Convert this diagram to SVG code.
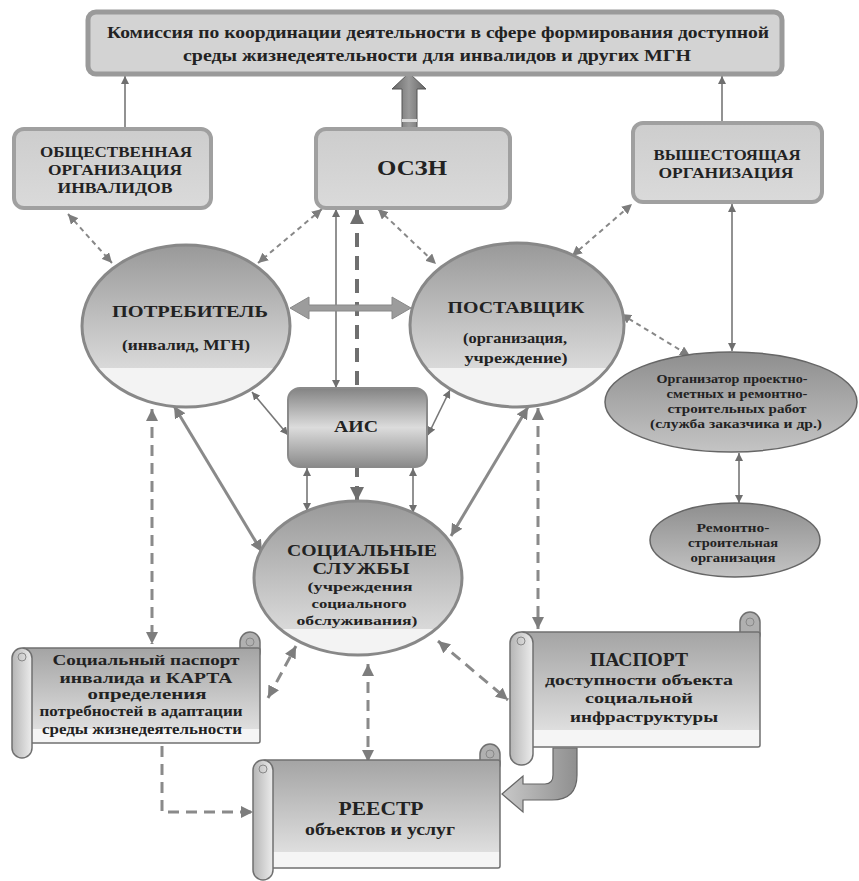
<svg xmlns="http://www.w3.org/2000/svg" width="859" height="881" viewBox="0 0 859 881">
<defs>
<linearGradient id="gBox" x1="0" y1="0" x2="0" y2="1"><stop offset="0" stop-color="#cdcdcd"/><stop offset="1" stop-color="#dadada"/></linearGradient>
<linearGradient id="gEll" x1="0" y1="0" x2="0" y2="1"><stop offset="0" stop-color="#999"/><stop offset="0.76" stop-color="#d9d9d9"/><stop offset="0.76" stop-color="#f3f3f3"/><stop offset="1" stop-color="#f3f3f3"/></linearGradient>
<linearGradient id="gEll2" x1="0" y1="0" x2="0" y2="1"><stop offset="0" stop-color="#999"/><stop offset="0.83" stop-color="#d9d9d9"/><stop offset="0.83" stop-color="#f3f3f3"/><stop offset="1" stop-color="#f3f3f3"/></linearGradient>
<linearGradient id="gOrg" x1="0" y1="0" x2="0" y2="1"><stop offset="0" stop-color="#8e8e8e"/><stop offset="1" stop-color="#c4c4c4"/></linearGradient>
<linearGradient id="gAis" x1="0" y1="0" x2="0" y2="1"><stop offset="0" stop-color="#838383"/><stop offset="0.5" stop-color="#dcdcdc"/><stop offset="1" stop-color="#8a8a8a"/></linearGradient>
<linearGradient id="gScr" x1="0" y1="0" x2="0" y2="1"><stop offset="0" stop-color="#a4a4a4"/><stop offset="0.85" stop-color="#dedede"/><stop offset="0.85" stop-color="#f5f5f5"/><stop offset="1" stop-color="#f5f5f5"/></linearGradient>
<linearGradient id="gRoll" x1="0" y1="0" x2="1" y2="0"><stop offset="0" stop-color="#b5b5b5"/><stop offset="1" stop-color="#ececec"/></linearGradient>
<linearGradient id="gArr" x1="0" y1="0" x2="1" y2="0"><stop offset="0" stop-color="#666"/><stop offset="0.5" stop-color="#9a9a9a"/><stop offset="1" stop-color="#666"/></linearGradient>
<linearGradient id="gU" x1="0" y1="0" x2="1" y2="0"><stop offset="0" stop-color="#c8c8c8"/><stop offset="1" stop-color="#8f8f8f"/></linearGradient>
<marker id="mt" viewBox="0 0 10 10" refX="10" refY="5" markerWidth="8" markerHeight="8" markerUnits="userSpaceOnUse" orient="auto-start-reverse"><path d="M0,0L10,5L0,10z" fill="#6f6f6f"/></marker>
<marker id="md" viewBox="0 0 10 10" refX="10" refY="5" markerWidth="10" markerHeight="10" markerUnits="userSpaceOnUse" orient="auto-start-reverse"><path d="M0,0L10,5L0,10z" fill="#7d7d7d"/></marker>
<marker id="mm" viewBox="0 0 10 10" refX="10" refY="5" markerWidth="12" markerHeight="12" markerUnits="userSpaceOnUse" orient="auto-start-reverse"><path d="M0,0L10,5L0,10z" fill="#7d7d7d"/></marker>
<marker id="mb" viewBox="0 0 10 10" refX="10" refY="5" markerWidth="14" markerHeight="14" markerUnits="userSpaceOnUse" orient="auto-start-reverse"><path d="M0,0L10,5L0,10z" fill="#6f6f6f"/></marker>
</defs>
<style>
.box{fill:url(#gBox);stroke:#a0a0a0;stroke-width:4}
.t{font-family:'Liberation Serif','Times New Roman','DejaVu Serif',serif;font-weight:bold;fill:#222;text-anchor:middle}
.sl{fill:none;stroke:#777;stroke-width:1.6}
.dl{fill:none;stroke:#888;stroke-width:2;stroke-dasharray:5 4}
.dl2{fill:none;stroke:#8a8a8a;stroke-width:3;stroke-dasharray:11 7}
.dl3{fill:none;stroke:#6f6f6f;stroke-width:4;stroke-dasharray:14 9}
.ml{fill:none;stroke:#8a8a8a;stroke-width:3}
.ell{stroke:#888;stroke-width:3}
.scr{fill:url(#gScr);stroke:#707070;stroke-width:1.5}
.roll{fill:url(#gRoll);stroke:#707070;stroke-width:1.5}
.curl{fill:#b0b0b0;stroke:#707070;stroke-width:1.5}
</style>
<rect width="859" height="881" fill="#fff"/>

<g id="connectors">
  <path class="sl" d="M125,128V76" marker-end="url(#mt)"/>
  <path class="sl" d="M722,123V76" marker-end="url(#mt)"/>
  <path class="sl" d="M732,204V351" marker-start="url(#mt)" marker-end="url(#mt)"/>
  <path class="sl" d="M739,453V503" marker-start="url(#mt)" marker-end="url(#mt)"/>
  <path class="dl" d="M621,314L690,356" marker-start="url(#md)" marker-end="url(#md)"/>
  <path class="dl" d="M572,256L632,204" marker-start="url(#md)" marker-end="url(#md)"/>
  <path class="dl" d="M322,209L258,263" marker-start="url(#md)" marker-end="url(#md)"/>
  <path class="dl" d="M378,209L436,264" marker-start="url(#md)" marker-end="url(#md)"/>
  <path class="dl" d="M68,214L112,263" marker-start="url(#md)" marker-end="url(#md)"/>
  <path class="sl" d="M336,209V388" marker-start="url(#mt)" marker-end="url(#mt)"/>
  <path class="dl3" d="M357,210V501" marker-start="url(#mb)" marker-end="url(#mb)"/>
  <path class="sl" d="M252,392L288,435" marker-start="url(#mt)" marker-end="url(#mt)"/>
  <path class="sl" d="M450,390L428,435" marker-start="url(#mt)" marker-end="url(#mt)"/>
  <path class="sl" d="M307,468V511" marker-start="url(#mt)" marker-end="url(#mt)"/>
  <path class="sl" d="M413,468V513" marker-start="url(#mt)" marker-end="url(#mt)"/>
  <path class="ml" d="M174,406L262,552" marker-start="url(#mm)" marker-end="url(#mm)"/>
  <path class="ml" d="M528,407L451,536" marker-start="url(#mm)" marker-end="url(#mm)"/>
  <path class="dl2" d="M152,409V644" marker-start="url(#mm)" marker-end="url(#mm)"/>
  <path class="dl2" d="M538,408V629" marker-start="url(#mm)" marker-end="url(#mm)"/>
  <path class="dl2" d="M268,698L296,646" marker-start="url(#mm)" marker-end="url(#mm)"/>
  <path class="dl2" d="M368,664V762" marker-start="url(#mm)" marker-end="url(#mm)"/>
  <path class="dl2" d="M438,641L508,700" marker-start="url(#mm)" marker-end="url(#mm)"/>
  <path class="dl2" d="M162,746V812H253" marker-end="url(#mm)"/>
  <polygon points="290,308 309,297 309,305 392,305 392,297 411,308 392,319 392,311 309,311 309,319" fill="#9c9c9c" stroke="#888" stroke-width="1"/>
  <polygon points="409,73 392,89 402,89 402,128 417,128 417,89 426,89" fill="url(#gArr)" stroke="#555" stroke-width="1"/>
  <rect x="402" y="119" width="15" height="3" fill="#ddd"/>
  <path d="M553,748H577V775Q577,800 552,800H523V812L502,794L523,776V784H545Q553,784 553,775Z" fill="url(#gU)" stroke="#666" stroke-width="1.2"/>
</g>

<g id="commission">
  <rect x="88" y="12" width="694" height="62" rx="8" fill="#d3d3d3" stroke="#9a9a9a" stroke-width="5"/>
  <text class="t" x="438" y="38" font-size="16" textLength="662" lengthAdjust="spacingAndGlyphs">Комиссия по координации деятельности в сфере формирования доступной</text>
  <text class="t" x="437" y="61" font-size="16" textLength="508" lengthAdjust="spacingAndGlyphs">среды жизнедеятельности для инвалидов и других МГН</text>
</g>

<g id="obshch">
  <rect class="box" x="14" y="129" width="197" height="79" rx="10"/>
  <text class="t" x="116" y="157" font-size="14" textLength="152" lengthAdjust="spacingAndGlyphs">ОБЩЕСТВЕННАЯ</text>
  <text class="t" x="115" y="175" font-size="14" textLength="134" lengthAdjust="spacingAndGlyphs">ОРГАНИЗАЦИЯ</text>
  <text class="t" x="115" y="193" font-size="14" textLength="115" lengthAdjust="spacingAndGlyphs">ИНВАЛИДОВ</text>
</g>

<g id="oszn">
  <rect class="box" x="316" y="129" width="194" height="79" rx="10"/>
  <text class="t" x="412" y="175" font-size="20" textLength="70" lengthAdjust="spacingAndGlyphs">ОСЗН</text>
</g>

<g id="vysh">
  <rect class="box" x="633" y="123" width="189" height="79" rx="10"/>
  <text class="t" x="727" y="160" font-size="14" textLength="147" lengthAdjust="spacingAndGlyphs">ВЫШЕСТОЯЩАЯ</text>
  <text class="t" x="726" y="178" font-size="14" textLength="135" lengthAdjust="spacingAndGlyphs">ОРГАНИЗАЦИЯ</text>
</g>

<g id="potrebitel">
  <ellipse class="ell" cx="186" cy="326" rx="104" ry="81" fill="url(#gEll)"/>
  <text class="t" x="190" y="317" font-size="17" textLength="156" lengthAdjust="spacingAndGlyphs">ПОТРЕБИТЕЛЬ</text>
  <text class="t" x="186" y="350" font-size="14" textLength="128" lengthAdjust="spacingAndGlyphs">(инвалид, МГН)</text>
</g>

<g id="postavshik">
  <ellipse class="ell" cx="517" cy="325" rx="107" ry="82" fill="url(#gEll)"/>
  <text class="t" x="516" y="313" font-size="17" textLength="137" lengthAdjust="spacingAndGlyphs">ПОСТАВЩИК</text>
  <text class="t" x="515" y="343" font-size="14" textLength="104" lengthAdjust="spacingAndGlyphs">(организация,</text>
  <text class="t" x="516" y="363" font-size="14" textLength="103" lengthAdjust="spacingAndGlyphs">учреждение)</text>
</g>

<g id="ais">
  <rect x="288" y="388" width="139" height="79" rx="12" fill="url(#gAis)" stroke="#8a8a8a" stroke-width="2"/>
  <text class="t" x="356" y="432" font-size="17" textLength="44" lengthAdjust="spacingAndGlyphs">АИС</text>
</g>

<g id="social">
  <ellipse class="ell" cx="358" cy="578" rx="104" ry="77" fill="url(#gEll2)"/>
  <text class="t" x="362" y="556" font-size="16.5" textLength="150" lengthAdjust="spacingAndGlyphs">СОЦИАЛЬНЫЕ</text>
  <text class="t" x="361" y="574" font-size="16.5" textLength="97" lengthAdjust="spacingAndGlyphs">СЛУЖБЫ</text>
  <text class="t" x="360" y="591" font-size="13.5" textLength="105" lengthAdjust="spacingAndGlyphs">(учреждения</text>
  <text class="t" x="359" y="608" font-size="13.5" textLength="95" lengthAdjust="spacingAndGlyphs">социального</text>
  <text class="t" x="357" y="625" font-size="13.5" textLength="121" lengthAdjust="spacingAndGlyphs">обслуживания)</text>
</g>

<g id="organizer">
  <ellipse cx="731" cy="402" rx="126" ry="50" fill="url(#gOrg)" stroke="#666" stroke-width="1.5"/>
  <text class="t" x="732" y="383" font-size="12" textLength="151" lengthAdjust="spacingAndGlyphs">Организатор проектно-</text>
  <text class="t" x="737" y="398" font-size="12" textLength="141" lengthAdjust="spacingAndGlyphs">сметных и ремонтно-</text>
  <text class="t" x="737" y="413" font-size="12" textLength="139" lengthAdjust="spacingAndGlyphs">строительных работ</text>
  <text class="t" x="736" y="428" font-size="12" textLength="172" lengthAdjust="spacingAndGlyphs">(служба заказчика и др.)</text>
</g>

<g id="remont">
  <ellipse cx="735" cy="540" rx="85" ry="37" fill="url(#gOrg)" stroke="#666" stroke-width="1.5"/>
  <text class="t" x="733" y="532" font-size="12" textLength="73" lengthAdjust="spacingAndGlyphs">Ремонтно-</text>
  <text class="t" x="733" y="547" font-size="12" textLength="90" lengthAdjust="spacingAndGlyphs">строительная</text>
  <text class="t" x="733" y="562" font-size="12" textLength="85" lengthAdjust="spacingAndGlyphs">организация</text>
</g>

<g id="soc-passport">
  <rect class="curl" x="240" y="632" width="20" height="30" rx="10"/>
  <circle cx="250" cy="642" r="4" fill="none" stroke="#888" stroke-width="1"/>
  <rect class="scr" x="22" y="648" width="238" height="95" rx="2"/>
  <rect class="roll" x="12" y="648" width="20" height="110" rx="10"/>
  <circle cx="22" cy="657" r="4" fill="none" stroke="#888" stroke-width="1"/>
  <text class="t" x="146" y="665" font-size="15" textLength="187" lengthAdjust="spacingAndGlyphs">Социальный паспорт</text>
  <text class="t" x="146" y="683" font-size="15" textLength="173" lengthAdjust="spacingAndGlyphs">инвалида и КАРТА</text>
  <text class="t" x="147" y="699" font-size="15" textLength="119" lengthAdjust="spacingAndGlyphs">определения</text>
  <text class="t" x="141" y="716" font-size="15" textLength="203" lengthAdjust="spacingAndGlyphs">потребностей в адаптации</text>
  <text class="t" x="142" y="734" font-size="15" textLength="200" lengthAdjust="spacingAndGlyphs">среды жизнедеятельности</text>
</g>

<g id="passport">
  <rect class="curl" x="740" y="612" width="20" height="32" rx="10"/>
  <circle cx="750" cy="622" r="4" fill="none" stroke="#888" stroke-width="1"/>
  <rect class="scr" x="521" y="632" width="239" height="115" rx="2"/>
  <rect class="roll" x="510" y="632" width="23" height="133" rx="11"/>
  <circle cx="521" cy="641" r="4" fill="none" stroke="#888" stroke-width="1"/>
  <text class="t" x="639" y="666" font-size="19" textLength="98" lengthAdjust="spacingAndGlyphs">ПАСПОРТ</text>
  <text class="t" x="639" y="685" font-size="15" textLength="188" lengthAdjust="spacingAndGlyphs">доступности объекта</text>
  <text class="t" x="639" y="703" font-size="15" textLength="108" lengthAdjust="spacingAndGlyphs">социальной</text>
  <text class="t" x="644" y="722" font-size="15" textLength="148" lengthAdjust="spacingAndGlyphs">инфраструктуры</text>
</g>

<g id="reestr">
  <rect class="curl" x="480" y="744" width="20" height="30" rx="10"/>
  <circle cx="490" cy="754" r="4" fill="none" stroke="#888" stroke-width="1"/>
  <rect class="scr" x="263" y="760" width="237" height="108" rx="2"/>
  <rect class="roll" x="253" y="760" width="20" height="120" rx="10"/>
  <circle cx="263" cy="769" r="4" fill="none" stroke="#888" stroke-width="1"/>
  <text class="t" x="381" y="815" font-size="19" textLength="85" lengthAdjust="spacingAndGlyphs">РЕЕСТР</text>
  <text class="t" x="380" y="835" font-size="16" textLength="150" lengthAdjust="spacingAndGlyphs">объектов и услуг</text>
</g>
</svg>
